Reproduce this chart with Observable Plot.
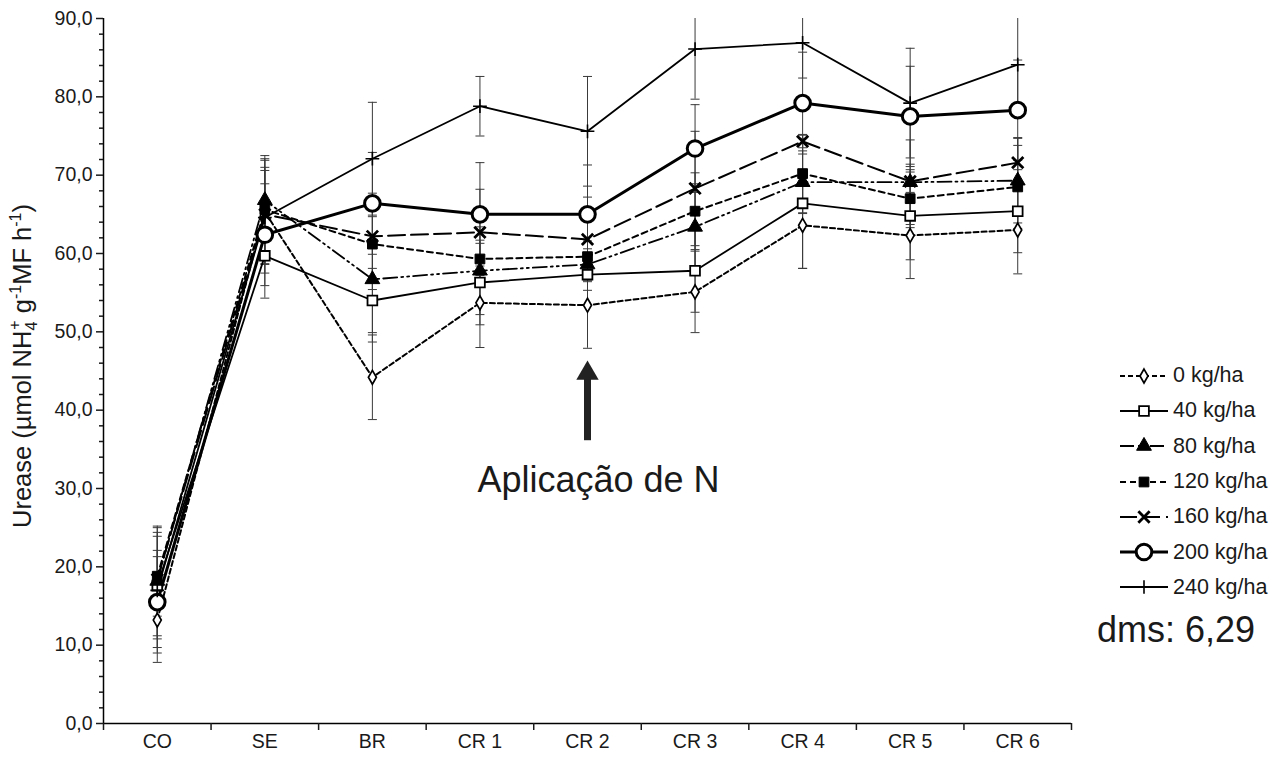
<!DOCTYPE html>
<html><head><meta charset="utf-8">
<script src="https://cdn.jsdelivr.net/npm/d3@7"></script>
<script src="https://cdn.jsdelivr.net/npm/@observablehq/plot@0.6"></script>
<style>
body{margin:0;background:#fff;font-family:"Liberation Sans",Arial,sans-serif;color:#1a1a1a;}
#wrap{position:relative;width:1287px;height:760px;overflow:hidden;}
#legend{position:absolute;left:1118px;top:358px;}
.row{display:flex;align-items:center;height:35.3px;font-size:21.5px;}
.row svg{margin-right:3px;}
#dms{position:absolute;left:1097px;top:609px;font-size:36px;line-height:1.15;}
</style></head><body><div id="wrap"><div id="legend"></div><div id="dms">dms: 6,29</div></div>
<script>
const categories = ["CO","SE","BR","CR 1","CR 2","CR 3","CR 4","CR 5","CR 6"];
const seriesNames = ["0 kg/ha","40 kg/ha","80 kg/ha","120 kg/ha","160 kg/ha","200 kg/ha","240 kg/ha"];

const v0   = [13.2, 65.3, 44.2, 53.7, 53.4, 55.1, 63.6, 62.3, 63.0];
const v40  = [17.6, 59.7, 54.0, 56.3, 57.3, 57.8, 66.4, 64.8, 65.4];
const v80  = [18.2, 66.8, 56.7, 57.8, 58.6, 63.4, 69.1, 69.1, 69.3];
const v120 = [18.8, 65.6, 61.2, 59.3, 59.6, 65.4, 70.2, 67.0, 68.5];
const v160 = [18.4, 65.0, 62.2, 62.7, 61.8, 68.3, 74.3, 69.2, 71.6];
const v200 = [15.5, 62.4, 66.4, 65.0, 65.0, 73.4, 79.2, 77.5, 78.3];
const v240 = [17.0, 64.6, 72.1, 78.8, 75.6, 86.1, 86.9, 79.2, 84.1];

const e0   = [5.4, 6.6, 5.4, 5.7, 5.5, 5.2, 5.5, 5.5, 5.6];
const e40  = [6.8, 5.4, 4.1, 5.4, 2.0, 5.3, 8.3, 5.6, 5.3];
const e80  = [7.0, 4.2, 8.0, 5.6, 2.0, 5.5, 4.0, 5.4, 5.4];
const e120 = [5.1, 6.5, 5.8, 2.0, 2.0, 4.9, 5.0, 3.7, 5.3];
const e160 = [3.7, 7.5, 5.5, 5.5, 5.4, 7.3, 0.8, 2.2, 3.2];
const e200 = [5.8, 6.5, 6.5, 6.6, 6.3, 5.6, 6.5, 6.4, 6.4];
const e240 = [8.0, 6.0, 7.2, 3.8, 7.0, 6.4, 4.5, 7.0, 6.5];

const yMajor = [0,10,20,30,40,50,60,70,80,90];
const yMinor = d3.range(0, 91, 2).filter(v => v % 10 !== 0);

const annotationLabel = "Aplicação de N";
const annotationCategory = "CR 2";
const arrowFrom = 36.1, arrowHead = 44.7, labelY = 31.0;

const valueArrays = [v0, v40, v80, v120, v160, v200, v240];
const errArrays = [e0, e40, e80, e120, e160, e200, e240];
const yMax = 90;

const styles = {
  "0 kg/ha":   {sw:2,   dash:"5,3",           symbol:"diamond",  r:4.2, fill:"white", msw:1.7},
  "40 kg/ha":  {sw:1.8, dash:null,            symbol:"square",   r:5.5, fill:"white", msw:1.8},
  "80 kg/ha":  {sw:1.8, dash:"14,4,2,4,2,4",  symbol:"triangle", r:5.5, fill:"black", msw:1},
  "120 kg/ha": {sw:2,   dash:"6,4",           symbol:"square",   r:5.5, fill:"black", msw:1},
  "160 kg/ha": {sw:2,   dash:"17,6",          symbol:"times",    r:5.2, fill:"none",  msw:2.8},
  "200 kg/ha": {sw:3,   dash:null,            symbol:"circle",   r:7.8, fill:"white", msw:3},
  "240 kg/ha": {sw:1.8, dash:null,            symbol:"plus",     r:4.5, fill:"none",  msw:1.6}
};

const rows = [];
seriesNames.forEach((s, k) => {
  categories.forEach((c, i) => rows.push({series: s, i, cat: c, value: valueArrays[k][i], err: errArrays[k][i]}));
});

const capSymbol = {draw(ctx, size) { const w = 4.5; ctx.moveTo(-w, 0); ctx.lineTo(w, 0); }};
const caps = [];
rows.forEach(d => {
  const top = d.value + d.err, bot = d.value - d.err;
  if (top <= yMax) caps.push({i: d.i, y: top});
  caps.push({i: d.i, y: bot});
});
const catIndex = categories.map((c, i) => i);
const boundaries = d3.range(0, categories.length + 1).map(i => i - 0.5);
const arrowIdx = categories.indexOf(annotationCategory);
const yFmt = v => v.toFixed(1).replace(".", ",");

const marks = [
  Plot.ruleX(rows, {x: "i", y1: d => d.value - d.err, y2: d => Math.min(yMax, d.value + d.err), stroke: "#3a3a3a", strokeWidth: 1}),
  Plot.dot(caps, {x: "i", y: "y", symbol: capSymbol, r: 3, fill: "none", stroke: "#3a3a3a", strokeWidth: 1})
];
seriesNames.forEach(s => {
  const st = styles[s];
  const data = rows.filter(d => d.series === s);
  marks.push(Plot.line(data, {x: "i", y: "value", stroke: "black", strokeWidth: st.sw, strokeDasharray: st.dash, strokeLinejoin: "miter"}));
});
seriesNames.forEach(s => {
  const st = styles[s];
  const data = rows.filter(d => d.series === s);
  marks.push(Plot.dot(data, {x: "i", y: "value", symbol: st.symbol, r: st.r, fill: st.fill, stroke: "black", strokeWidth: st.msw}));
});
marks.push(
  Plot.ruleX([{i: arrowIdx}], {x: "i", y1: arrowFrom, y2: arrowHead, stroke: "#222", strokeWidth: 7}),
  Plot.dot([{i: arrowIdx}], {x: "i", y: arrowHead, symbol: "triangle", r: 8.3, fill: "#222", stroke: "none"}),
  Plot.text([annotationLabel], {x: arrowIdx, y: labelY, text: d => d, fontSize: 36, dx: 11, fill: "#1a1a1a"}),
  Plot.ruleX([boundaries[0]], {stroke: "black", strokeWidth: 1.5}),
  Plot.ruleY([0], {stroke: "black", strokeWidth: 1.5}),
  Plot.axisY({ticks: yMajor, tickSize: 7, tickPadding: 4, tickFormat: yFmt, label: null, strokeWidth: 1.5}),
  Plot.axisY({ticks: yMinor, tickSize: 4, tickFormat: () => "", label: null, strokeWidth: 1.5}),
  Plot.axisX({ticks: catIndex, tickSize: 0, tickPadding: 11, tickFormat: i => categories[i], label: null}),
  Plot.axisX({ticks: boundaries, tickSize: 7, tickFormat: () => "", label: null, strokeWidth: 1.5})
);

const chart = Plot.plot({
  width: 1287, height: 760,
  marginLeft: 103, marginRight: 216, marginTop: 18, marginBottom: 37,
  style: {fontFamily: "Liberation Sans, Arial, sans-serif", color: "#1a1a1a", background: "white"},
  x: {type: "linear", domain: [-0.5, categories.length - 0.5]},
  y: {type: "linear", domain: [0, yMax]},
  marks
});
document.getElementById("wrap").prepend(chart);

const svg = d3.select(chart);
// enlarge the axis tick labels
const tickTexts = new Set([...categories, ...yMajor.map(yFmt)]);
svg.selectAll("text").each(function() {
  if (tickTexts.has(this.textContent.trim())) {
    this.setAttribute("font-size", "19.5");
    this.style.fontSize = "19.5px";
  }
});

// y-axis title with sub/superscripts
const t = svg.append("text")
  .attr("transform", "translate(31,366) rotate(-90)")
  .attr("text-anchor", "middle")
  .attr("font-size", 25.5)
  .attr("fill", "#1a1a1a");
t.append("tspan").text("Urease (µmol NH");
t.append("tspan").attr("font-size", 16).attr("dy", 6).text("4");
t.append("tspan").attr("font-size", 16).attr("dy", -17).attr("dx", -8).text("+");
t.append("tspan").attr("dy", 11).text(" g");
t.append("tspan").attr("font-size", 16).attr("dy", -10).text("-1");
t.append("tspan").attr("dy", 10).text("MF h");
t.append("tspan").attr("font-size", 16).attr("dy", -10).text("-1");
t.append("tspan").attr("dy", 10).text(")");

// legend
const legend = d3.select("#legend");
const symMap = {diamond: d3.symbolDiamond, square: d3.symbolSquare, triangle: d3.symbolTriangle, times: d3.symbolTimes, circle: d3.symbolCircle, plus: d3.symbolPlus};
seriesNames.forEach(s => {
  const st = styles[s];
  const row = legend.append("div").attr("class", "row");
  const sv = row.append("svg").attr("width", 52).attr("height", 20);
  sv.append("line").attr("x1", 2).attr("x2", 50).attr("y1", 10).attr("y2", 10)
    .attr("stroke", "black").attr("stroke-width", st.sw).attr("stroke-dasharray", st.dash);
  sv.append("path").attr("transform", "translate(26,10)")
    .attr("d", d3.symbol(symMap[st.symbol], Math.PI * st.r * st.r)())
    .attr("fill", st.fill).attr("stroke", "black").attr("stroke-width", st.msw);
  row.append("span").text(s);
});
</script></body></html>
